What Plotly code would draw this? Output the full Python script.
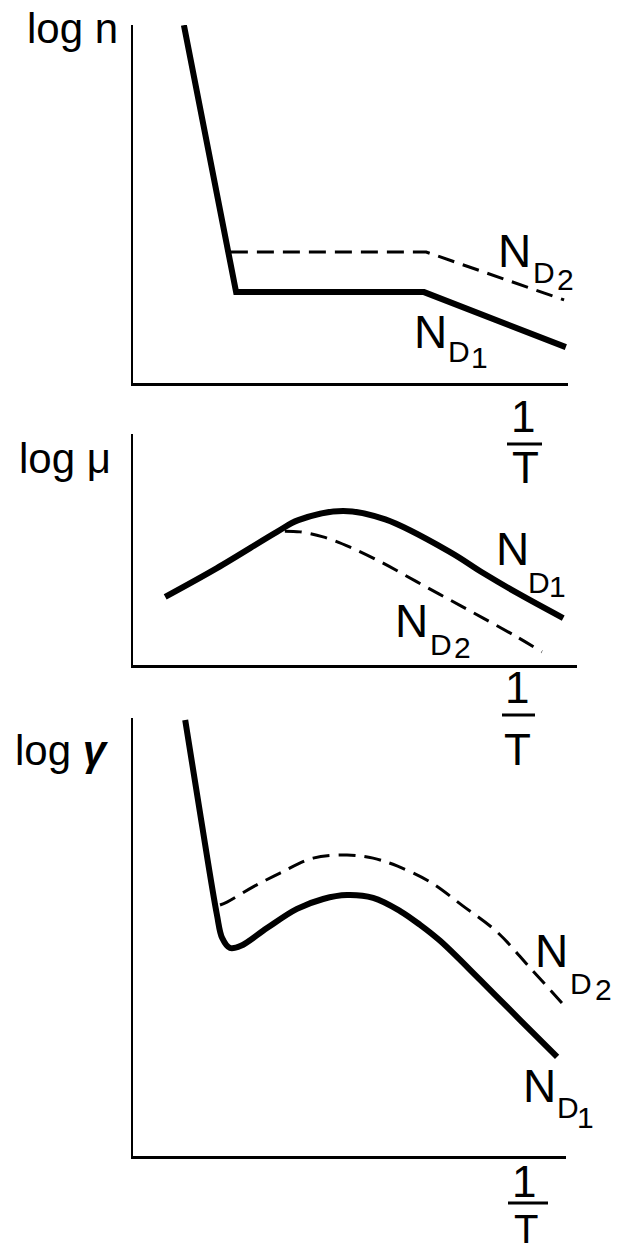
import plotly.graph_objects as go

W, H = 625, 1251

# ---------------- data (arbitrary units: x = 1/T, y = log quantity) ----------
# Panel 1 : log n
n_x_nd1 = [1.17, 2.37, 6.69, 9.95]
n_y_nd1 = [10.08, 2.56, 2.56, 1.01]
n_x_nd2 = [2.25, 6.74, 9.91]
n_y_nd2 = [3.69, 3.69, 2.34]

# Panel 2 : log mu
mu_x_nd1 = [0.74, 1.93, 3.31, 3.80, 4.83, 5.80, 7.29, 8.05, 8.83, 9.89]
mu_y_nd1 = [1.92, 2.73, 3.75, 4.08, 4.34, 4.10, 3.18, 2.59, 2.03, 1.32]
mu_x_nd2 = [3.49, 3.84, 4.37, 4.99, 5.75, 6.53, 7.29, 8.05, 8.83, 9.40]
mu_y_nd2 = [3.77, 3.75, 3.61, 3.32, 2.87, 2.34, 1.83, 1.32, 0.79, 0.37]

# Panel 3 : log gamma
g_x_nd1 = [1.20, 1.56, 1.93, 2.05, 2.23, 2.48, 3.08, 3.77, 4.37, 4.92, 5.52,
           6.14, 6.60, 7.06, 7.98, 8.90, 9.75]
g_y_nd1 = [12.28, 9.52, 6.79, 6.14, 5.86, 5.92, 6.42, 6.96, 7.24, 7.35, 7.27,
           6.90, 6.51, 6.06, 4.96, 3.83, 2.79]
g_x_nd2 = [2.00, 2.16, 2.76, 3.38, 4.14, 4.92, 5.52, 6.07, 6.83, 7.59, 8.37,
           9.13, 9.86]
g_y_nd2 = [7.07, 7.15, 7.58, 7.97, 8.39, 8.48, 8.39, 8.17, 7.72, 7.04, 6.31,
           5.30, 4.31]

axis_titles = ["log n", "log μ", "log <b><i>γ</i></b>"]

# ---------------- layout helpers ----------------
PXX, PXY = 43.5, 35.5   # pixels per data unit
X0 = 133


def px(x):
    return x / W


def py(y):
    return 1 - y / H


FONT = "Liberation Sans"
SOLID_W = 6
DASH_W = 3
DASH = "17px,9px"
SMOOTH = 1.0

fig = go.Figure()

panels = [
    # (x end px, y bottom px, y top px, solid xy, dashed xy, solid shape)
    (568, 383, 25, (n_x_nd1, n_y_nd1), (n_x_nd2, n_y_nd2), "linear"),
    (577, 665, 434, (mu_x_nd1, mu_y_nd1), (mu_x_nd2, mu_y_nd2), "spline"),
    (566, 1156, 718, (g_x_nd1, g_y_nd1), (g_x_nd2, g_y_nd2), "spline"),
]

for i, (xend, ybot, ytop, sol, dsh, shp) in enumerate(panels):
    k = "" if i == 0 else str(i + 1)
    xa, ya = "x" + k, "y" + k
    sm = SMOOTH if shp == "spline" else None
    fig.add_trace(go.Scatter(x=sol[0], y=sol[1], mode="lines", xaxis=xa, yaxis=ya,
                             line=dict(color="black", width=SOLID_W, shape=shp,
                                       smoothing=sm),
                             showlegend=False, hoverinfo="skip"))
    fig.add_trace(go.Scatter(x=dsh[0], y=dsh[1], mode="lines", xaxis=xa, yaxis=ya,
                             line=dict(color="black", width=DASH_W, dash=DASH,
                                       shape=shp, smoothing=sm),
                             showlegend=False, hoverinfo="skip"))
    common = dict(showline=True, linecolor="black", linewidth=2.5, showgrid=False,
                  zeroline=False, showticklabels=False, ticks="", fixedrange=True)
    fig.layout["xaxis" + k] = dict(domain=[px(X0), px(xend)],
                                   range=[0, (xend - X0) / PXX],
                                   anchor=ya, **common)
    fig.layout["yaxis" + k] = dict(domain=[py(ybot), py(ytop)],
                                   range=[0, (ybot - ytop) / PXY],
                                   anchor=xa, **common)

annotations = []


def text(t, left, baseline, size, anchor="left"):
    annotations.append(dict(
        text=t, x=px(left), y=py(baseline - 0.347 * size), xref="paper", yref="paper",
        xanchor=anchor, yanchor="middle", showarrow=False,
        font=dict(family=FONT, size=size, color="black")))


# axis titles
text(axis_titles[0], 25, 43, 42)
text(axis_titles[1], 17, 473, 42)
text(axis_titles[2], 13, 765, 42)


def nd(left_n, bl_n, left_d, bl_d, digit, left_dig, bl_dig):
    text("N", left_n, bl_n, 46)
    text("D", left_d, bl_d, 30)
    text(digit, left_dig, bl_dig, 30)


nd(496, 267, 531, 283, "2", 555, 290)
nd(412, 348, 446, 362, "1", 469, 368)
nd(494, 565, 526, 593, "1", 547, 597)
nd(393, 637, 428, 655, "2", 452, 658)
nd(533, 967, 568, 994, "2", 593, 1000)
nd(521, 1102, 555, 1118, "1", 575, 1128)

shapes = []


def one_over_t(cx1, bl1, bar_y, bx0, bx1, cxt, blt, size_t=44):
    text("1", cx1 + 1.6, bl1, 44, anchor="center")
    text("T", cxt, blt, size_t, anchor="center")
    shapes.append(dict(type="line", xref="paper", yref="paper",
                       x0=px(bx0), x1=px(bx1), y0=py(bar_y), y1=py(bar_y),
                       line=dict(color="black", width=3)))


one_over_t(521, 432, 444, 507, 542, 525.5, 483)
one_over_t(515, 703, 715, 502, 535, 517.5, 765)
one_over_t(522, 1197, 1203, 508, 548, 525.5, 1243, size_t=40)

fig.update_layout(width=W, height=H, margin=dict(l=0, r=0, t=0, b=0),
                  paper_bgcolor="white", plot_bgcolor="white",
                  annotations=annotations, shapes=shapes, showlegend=False)

fig.write_html("out.html", config={"displayModeBar": False, "staticPlot": True},
               post_script="document.body.style.margin='0';"
                           "document.body.style.overflow='hidden';")
